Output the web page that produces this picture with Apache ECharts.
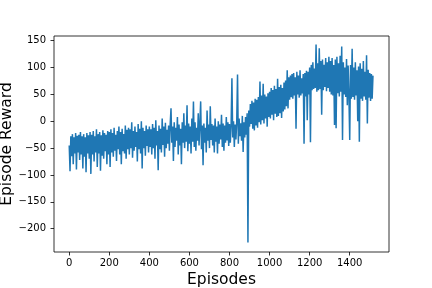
<!DOCTYPE html>
<html>
<head>
<meta charset="utf-8">
<script src="https://cdn.jsdelivr.net/npm/echarts@6/dist/echarts.min.js"></script>
<style>html,body{margin:0;padding:0;background:#fff;}#c{width:432px;height:288px;}</style>
</head>
<body>
<div id="c"></div>
<script>
// Episode step between stored samples
const STEP = 4;
// Rewards, one value every 4 episodes (0 .. 1516)
const rewards0 = [-45,-93,-28,-65,-24,-80,-30,-60,-22,-90,-27,-58,-25,-72,-20,-62,-28,-88,-24,-66,-30,-95,-22,-60,-26];
const rewards1 = [-70,-20,-98,-25,-62,-18,-75,-28,-58,-15,-85,-24,-60,-20,-92,-26,-64,-17,-70,-22,-56,-25,-80,-18,-62];
const rewards2 = [-20,-85,-15,-58,-22,-66,-12,-55,-25,-74,-18,-52,-10,-62,-20,-80,-14,-56,-24,-60,-8,-70,-16,-52,-12];
const rewards3 = [-62,-15,-50,-2,-68,-18,-55,-10,-48,-20,-75,-5,-52,-14,-60,0,-88,-12,-50,-18,-64,-8,-46,-15,-58];
const rewards4 = [-10,-48,-15,-62,-5,-50,-12,-70,2,-45,-18,-91,-8,-52,-14,-58,5,-44,-10,-66,-3,-50,-16,-42,-8];
const rewards5 = [-55,-5,24,-40,-10,-74,-2,-48,-12,-36,8,-62,-6,-45,-14,-80,-2,-40,15,-50,-8,-38,30,-56,-4];
const rewards6 = [-42,-10,-60,5,-38,37,-48,-2,-55,-12,-36,15,-45,-6,37,-52,-8,-82,-4,-40,-12,-58,20,-36,-6];
const rewards7 = [-50,28,-35,-5,-45,-8,-58,5,-38,-10,-60,0,-42,-6,-34,12,-48,-4,-55,-8,-40,8,-36,-2,-46];
const rewards8 = [-5,-40,-8,80,-30,0,-48,-6,-34,-2,87,-42,5,-28,-4,-36,10,-57,-2,-30,8,-25,15,-226,20];
const rewards9 = [-10,32,-5,38,-14,35,-17,42,-8,40,-12,45,-2,74,-6,48,2,70,-4,50,5,46,-10,52,8];
const rewards10 = [55,5,62,12,58,2,66,14,60,8,79,10,64,15,68,6,62,18,72,22,76,28,95,24,82];
const rewards11 = [40,85,45,88,42,90,48,82,-14,92,50,85,44,95,48,80,52,88,-42,90,46,94,2,92,50];
const rewards12 = [100,-39,105,58,110,60,98,62,143,55,108,58,136,60,112,12,115,58,105,64,118,56,110,62,120];
const rewards13 = [55,112,50,118,48,105,-7,115,-13,120,52,108,46,122,55,139,-35,110,50,100,45,116,30,104,48];
const rewards14 = [-35,105,42,135,45,100,40,110,48,95,0,102,-38,108,42,98,38,112,46,92,40,123,-4,96,44];
const rewards15 = [90,38,88,42,85];

const xTicks = [0,200,400,600,800,1000,1200,1400];
const yTicks = [-200,-150,-100,-50,0,50,100,150];
const xTitle = 'Episodes';
const yTitle = 'Episode Reward';

const rewards = [].concat(rewards0,rewards1,rewards2,rewards3,rewards4,rewards5,rewards6,rewards7,
  rewards8,rewards9,rewards10,rewards11,rewards12,rewards13,rewards14,rewards15);
const points = rewards.map((v,i)=>[i*STEP, v]);

const font = 'DejaVu Sans';
const fmt = v => String(v).replace('-', '\u2212');
const chart = echarts.init(document.getElementById('c'), null, {renderer:'canvas'});
chart.setOption({
  animation:false,
  backgroundColor:'#fff',
  grid:{left:54, right:43, top:36, bottom:36, show:true, borderColor:'#000', borderWidth:0.8,
        backgroundColor:'transparent', containLabel:false, outerBoundsMode:'none'},
  graphic:[{
    type:'text', x:7, y:144, rotation:Math.PI/2, silent:true,
    style:{text:yTitle, fill:'#000', font:'15.5px "DejaVu Sans"', align:'center', verticalAlign:'middle'}
  }],
  xAxis:{
    type:'value', min:-76, max:1596,
    name:xTitle, nameLocation:'middle', nameGap:20, nameMoveOverlap:false,
    nameTextStyle:{fontFamily:font, fontSize:15.5, color:'#000'},
    axisLine:{show:false, onZero:false},
    splitLine:{show:false},
    axisTick:{show:true, inside:false, length:3.5, lineStyle:{color:'#000', width:0.8}, customValues:xTicks},
    axisLabel:{show:true, margin:6, fontFamily:font, fontSize:10, color:'#000', customValues:xTicks, formatter:fmt}
  },
  yAxis:{
    type:'value', min:-243.5, max:158.8,
    axisLine:{show:false, onZero:false},
    splitLine:{show:false},
    axisTick:{show:true, inside:false, length:3.5, lineStyle:{color:'#000', width:0.8}, customValues:yTicks},
    axisLabel:{show:true, margin:8, fontFamily:font, fontSize:10, color:'#000', customValues:yTicks, formatter:fmt}
  },
  series:[{
    type:'line', data:points, showSymbol:false, symbol:'none',
    lineStyle:{color:'#1f77b4', width:1.5}, sampling:null, silent:true
  }]
});
</script>
</body>
</html>
